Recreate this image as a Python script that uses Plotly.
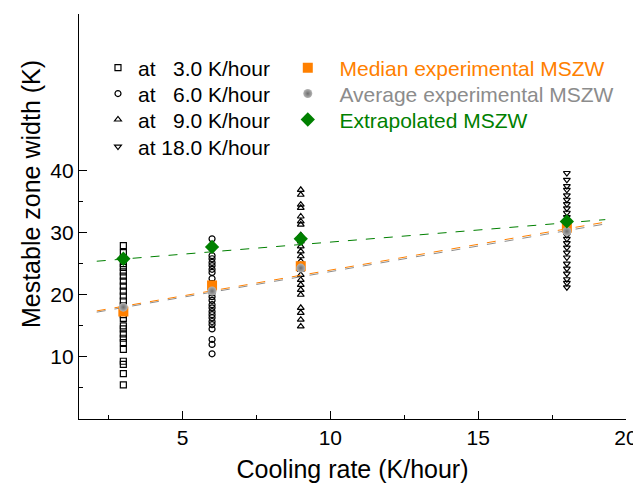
import plotly.graph_objects as go

# ---- data ----
rate_3 = 3.0
msz_3 = [27.9, 26.8, 25.8, 25.0, 24.4, 23.7, 23.0, 22.2, 21.4, 20.6, 19.8, 19.0,
         18.2, 17.5, 16.8, 16.2, 15.0, 14.5, 13.7, 13.0, 12.3, 11.2, 9.3, 8.8, 7.3, 5.5]
rate_6 = 6.0
msz_6 = [29.0, 27.4, 26.3, 25.8, 25.2, 24.7, 24.1, 23.6, 22.6, 21.8, 21.0, 20.3,
         19.7, 19.1, 18.4, 17.9, 17.3, 16.8, 16.3, 15.7, 15.2, 14.5, 12.8, 12.0, 10.5]
rate_9 = 9.0
msz_9 = [36.9, 36.1, 34.5, 34.0, 32.6, 31.8, 31.3, 29.6, 28.6, 27.8, 27.0, 26.2,
         25.4, 24.8, 24.0, 23.2, 22.4, 21.6, 20.8, 20.0, 17.9, 17.1, 16.0, 14.9]
rate_18 = 18.0
msz_18 = [39.6, 38.5, 37.5, 36.9, 36.0, 35.3, 34.6, 33.9, 33.2, 32.5, 31.8, 31.0,
          30.3, 29.6, 29.0, 28.3, 27.6, 26.8, 26.0, 25.0, 24.2, 23.4, 22.5, 21.9, 21.2]

rates = [3.0, 6.0, 9.0, 18.0]
median_msz = [17.3, 21.5, 24.6, 30.8]
average_msz = [18.0, 20.6, 24.3, 30.2]
extrap_msz = [25.8, 27.7, 29.0, 31.8]

fit_x = [2.1, 19.3]
median_fit = [17.4, 31.7]
average_fit = [17.2, 31.4]
extrap_fit = [25.4, 32.1]

x_title = "Cooling rate (K/hour)"
y_title = "Mestable zone width (K)"

ORANGE = "#ff8000"
GRAY = "#8c8c8c"
GREEN = "#008000"
FONT = "Liberation Sans, Arial, sans-serif"
NB = "\u00a0"

fig = go.Figure()

def open_series(x, ys, symbol, label, legend_id):
    fig.add_trace(go.Scatter(
        x=[x] * len(ys), y=ys, mode="markers", name=label, legend=legend_id,
        marker=dict(symbol=symbol, size=6, color="black",
                    line=dict(color="black", width=1.2)),
    ))

open_series(rate_3, msz_3, "square-open", "at" + NB * 3 + "3.0 K/hour", "legend")
open_series(rate_6, msz_6, "circle-open", "at" + NB * 3 + "6.0 K/hour", "legend2")
open_series(rate_9, msz_9, "triangle-up-open", "at" + NB * 3 + "9.0 K/hour", "legend3")
open_series(rate_18, msz_18, "triangle-down-open", "at 18.0 K/hour", "legend4")

fig.add_trace(go.Scatter(x=fit_x, y=extrap_fit, mode="lines", showlegend=False,
                         line=dict(color=GREEN, width=1, dash="dash")))
fig.add_trace(go.Scatter(x=fit_x, y=average_fit, mode="lines", showlegend=False,
                         line=dict(color=GRAY, width=1, dash="dash")))
fig.add_trace(go.Scatter(x=fit_x, y=median_fit, mode="lines", showlegend=False,
                         line=dict(color=ORANGE, width=1, dash="dash")))

fig.add_trace(go.Scatter(
    x=rates, y=median_msz, mode="markers", legend="legend5",
    name=f"<span style='color:{ORANGE}'>{NB*2}Median experimental MSZW</span>",
    marker=dict(symbol="square", size=10, color=ORANGE)))
fig.add_trace(go.Scatter(
    x=rates, y=average_msz, mode="markers", legend="legend6",
    name=f"<span style='color:{GRAY}'>{NB*2}Average experimental MSZW</span>",
    marker=dict(symbol="circle", size=9, color="#b4b4b4",
                gradient=dict(type="radial", color="#6e6e6e"))))
fig.add_trace(go.Scatter(
    x=rates, y=extrap_msz, mode="markers", legend="legend7",
    name=f"<span style='color:{GREEN}'>{NB*2}Extrapolated MSZW</span>",
    marker=dict(symbol="diamond", size=11, color=GREEN)))

axis_common = dict(
    showline=True, linecolor="black", linewidth=1.4, showgrid=False, zeroline=False,
    ticks="inside", ticklen=8, tickwidth=1.2, tickcolor="black", automargin=False,
    tickfont=dict(family=FONT, size=21, color="black"),
)

def leg(x, y):
    return dict(x=x, y=y, xanchor="left", yanchor="middle",
                bgcolor="rgba(0,0,0,0)", font=dict(family=FONT, size=21, color="black"))

row_y = [0.8667, 0.8027, 0.7387, 0.6717]
left_x = 0.0347
right_x = 0.3817

# the page body adds an 8 px offset, so the figure is 8 px smaller
fig.update_layout(
    width=633, height=477,
    margin=dict(l=71, r=15, t=6, b=66),
    paper_bgcolor="white", plot_bgcolor="white",
    font=dict(family=FONT, color="black"),
    xaxis=dict(range=[1.5, 20], tickvals=[5, 10, 15, 20],
               minor=dict(ticks="inside", ticklen=4, tickwidth=1.2, tickcolor="black",
                          tickvals=[2.5, 7.5, 12.5, 17.5]),
               title=dict(text=x_title, font=dict(size=25), standoff=12),
               **axis_common),
    yaxis=dict(range=[0, 65.2], tickvals=[10, 20, 30, 40],
               minor=dict(ticks="inside", ticklen=4, tickwidth=1.2, tickcolor="black",
                          tickvals=[5, 15, 25, 35]),
               **axis_common),
    annotations=[dict(text=y_title, textangle=-90, xref="paper", yref="paper",
                      x=-0.088, y=0.555, xanchor="center", yanchor="middle",
                      showarrow=False, font=dict(family=FONT, size=25, color="black"))],
    legend=leg(left_x, row_y[0]),
    legend2=leg(left_x, row_y[1]),
    legend3=leg(left_x, row_y[2]),
    legend4=leg(left_x, row_y[3]),
    legend5=leg(right_x, row_y[0]),
    legend6=leg(right_x, row_y[1]),
    legend7=leg(right_x, row_y[2]),
)

fig.write_html("out.html")
